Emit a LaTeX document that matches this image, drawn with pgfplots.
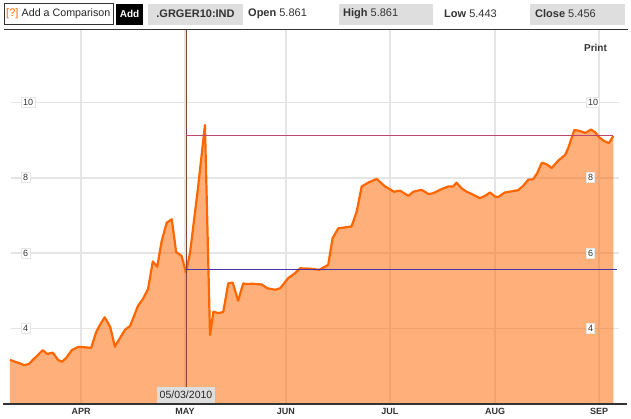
\documentclass[border=0pt]{standalone}
\usepackage{pgfplots}
\usepackage{pgfplotstable}
\pgfplotsset{compat=1.18}
\usepackage{fontspec}
\setmainfont{Liberation Sans}
\definecolor{lineor}{RGB}{255,102,0}
\definecolor{gridg}{RGB}{229,229,229}
\definecolor{boxg}{RGB}{222,222,222}
\definecolor{txt}{RGB}{51,51,51}
\definecolor{vline}{RGB}{130,70,55}
\definecolor{bline}{RGB}{75,50,170}
\definecolor{pline}{RGB}{190,70,110}
\pgfplotstableread{
d y
70.0 3.17
73.5 3.06
74.2 3.03
75.6 3.06
77.1 3.20
78.3 3.30
79.7 3.43
81.0 3.33
82.7 3.36
84.2 3.17
85.4 3.12
86.6 3.22
88.3 3.43
90.1 3.51
91.3 3.51
94.0 3.49
95.4 3.89
96.6 4.10
98.0 4.30
99.6 4.05
101.0 3.52
102.5 3.75
104.0 3.97
105.5 4.07
107.8 4.60
109.3 4.79
110.8 5.05
112.2 5.78
113.5 5.64
114.8 6.31
116.3 6.81
117.8 6.90
119.1 6.03
120.7 5.93
122.0 5.49
123.2 6.01
125.6 7.77
127.6 9.40
129.1 3.83
130.1 4.45
131.5 4.41
133.0 4.44
134.5 5.20
135.8 5.22
137.4 4.74
138.9 5.20
139.9 5.18
141.4 5.19
144.4 5.17
146.0 5.07
148.3 5.03
149.8 5.07
152.2 5.34
154.2 5.47
155.7 5.60
158.6 5.59
161.4 5.56
164.0 5.69
165.3 6.40
167.0 6.66
170.9 6.71
172.4 7.10
173.9 7.77
175.8 7.87
178.3 7.97
180.8 7.77
182.2 7.70
183.4 7.63
185.2 7.66
187.7 7.52
189.1 7.63
191.6 7.68
193.6 7.57
195.0 7.59
197.0 7.68
199.5 7.77
200.9 7.77
201.9 7.87
203.4 7.72
204.9 7.63
206.4 7.57
208.8 7.46
210.3 7.52
211.8 7.61
213.3 7.50
214.2 7.49
216.2 7.61
220.1 7.67
221.6 7.79
223.1 7.95
224.5 7.96
225.7 8.12
227.1 8.40
228.5 8.36
230.0 8.26
232.0 8.46
234.0 8.61
234.9 8.79
236.7 9.27
238.4 9.24
240.0 9.19
241.6 9.28
242.8 9.21
244.1 9.07
245.4 8.98
246.9 8.92
248.2 9.11
}\yields
\begin{document}
\begin{tikzpicture}
\path[use as bounding box] (0pt,0pt) rectangle (631pt,-418pt);
\begin{axis}[
  at={(3pt,-404pt)}, anchor=south west,
  width=624pt, height=374pt, scale only axis,
  xmin=67.96, xmax=252.25, ymin=2, ymax=11.92,
  axis line style={draw=none},
  major tick length=0pt,
  xtick={91,121.7,151.5,182.2,213.3,244.0},
  xticklabels={APR,MAY,JUN,JUL,AUG,SEP},
  xticklabel style={anchor=center, yshift=-7.7pt, font=\fontsize{9}{10}\selectfont\bfseries, text=txt},
  ytick=\empty,
  xmajorgrids,
  major grid style={draw=gridg, line width=1.5pt},
  clip=false,
]
% horizontal grid lines
\foreach \v in {4,6,8,10} {
  \edef\tmp{\noexpand\draw[gridg, line width=1.5pt] (axis cs:70.33,\v) -- (axis cs:249.9,\v);}
  \tmp
}
\addplot[draw=none, fill=lineor, fill opacity=0.52] table[x=d,y=y] {\yields} \closedcycle;
\addplot[lineor, line width=2.2pt, line join=round, mark=none] table[x=d,y=y] {\yields};
% crosshair
\draw[vline, line width=0.9pt] (axis cs:122.0,2) -- (axis cs:122.0,11.92);
\draw[bline, line width=0.9pt] (axis cs:122.0,5.58) -- (axis cs:249.4,5.58);
\draw[pline, line width=0.9pt] (axis cs:122.0,9.13) -- (axis cs:248.2,9.13);
% y tick boxes
\foreach \v in {4,6,8,10} {
  \edef\tmp{\noexpand\node[anchor=west, fill=white, draw=gridg, line width=0.8pt, inner sep=1.8pt, font=\noexpand\fontsize{9}{10}\noexpand\selectfont, text=txt] at (axis cs:73.28,\v) {\v};
  \noexpand\node[anchor=west, fill=white, draw=gridg, line width=0.8pt, inner sep=1.8pt, font=\noexpand\fontsize{9}{10}\noexpand\selectfont, text=txt] at (axis cs:240.1,\v) {\v};}
  \tmp
}
\end{axis}
% bottom axis line
\draw[txt, line width=1.4pt] (3pt,-404pt) -- (627pt,-404pt);
% date box
\node[fill=boxg, minimum width=57.7pt, minimum height=15.7pt, inner sep=0pt, font=\fontsize{10.5}{12}\selectfont, text=black!85] at (186pt,-395.2pt) {05/03/2010};
% Print
\node[font=\fontsize{10}{12}\selectfont\bfseries, text=txt] at (595.5pt,-47.5pt) {Print};
% header
\draw[black!80, line width=0.8pt, fill=white] (4pt,-3.5pt) rectangle (113pt,-24.5pt);
\node[anchor=west, inner sep=0pt, font=\fontsize{11}{13}\selectfont, text=lineor] at (6pt,-14pt) {[?]};
\node[anchor=west, inner sep=0pt, font=\fontsize{10.7}{13}\selectfont, text=black!85] at (21.5pt,-14pt) {Add a Comparison};
\fill[black] (116pt,-3.5pt) rectangle (143pt,-24.5pt);
\node[inner sep=0pt, font=\fontsize{10}{12}\selectfont\bfseries, text=white] at (129.5pt,-14pt) {Add};
\fill[boxg] (148pt,-3.5pt) rectangle (243pt,-24.5pt);
\node[inner sep=0pt, font=\fontsize{11}{13}\selectfont\bfseries, text=txt] at (195.5pt,-14pt) {.GRGER10:IND};
\node[anchor=west, inner sep=0pt, font=\fontsize{11}{13}\selectfont, text=txt] at (248pt,-14pt) {\textbf{Open} 5.861};
\fill[boxg] (339pt,-3.5pt) rectangle (433pt,-24.5pt);
\node[anchor=west, inner sep=0pt, font=\fontsize{11}{13}\selectfont, text=txt] at (343pt,-14pt) {\textbf{High} 5.861};
\node[anchor=west, inner sep=0pt, font=\fontsize{11}{13}\selectfont, text=txt] at (444pt,-14pt) {\textbf{Low} 5.443};
\fill[boxg] (530pt,-3.5pt) rectangle (625pt,-24.5pt);
\node[anchor=west, inner sep=0pt, font=\fontsize{11}{13}\selectfont, text=txt] at (535pt,-14pt) {\textbf{Close} 5.456};
\draw[txt, line width=1.4pt] (4pt,-29.3pt) -- (628pt,-29.3pt);
\end{tikzpicture}
\end{document}
